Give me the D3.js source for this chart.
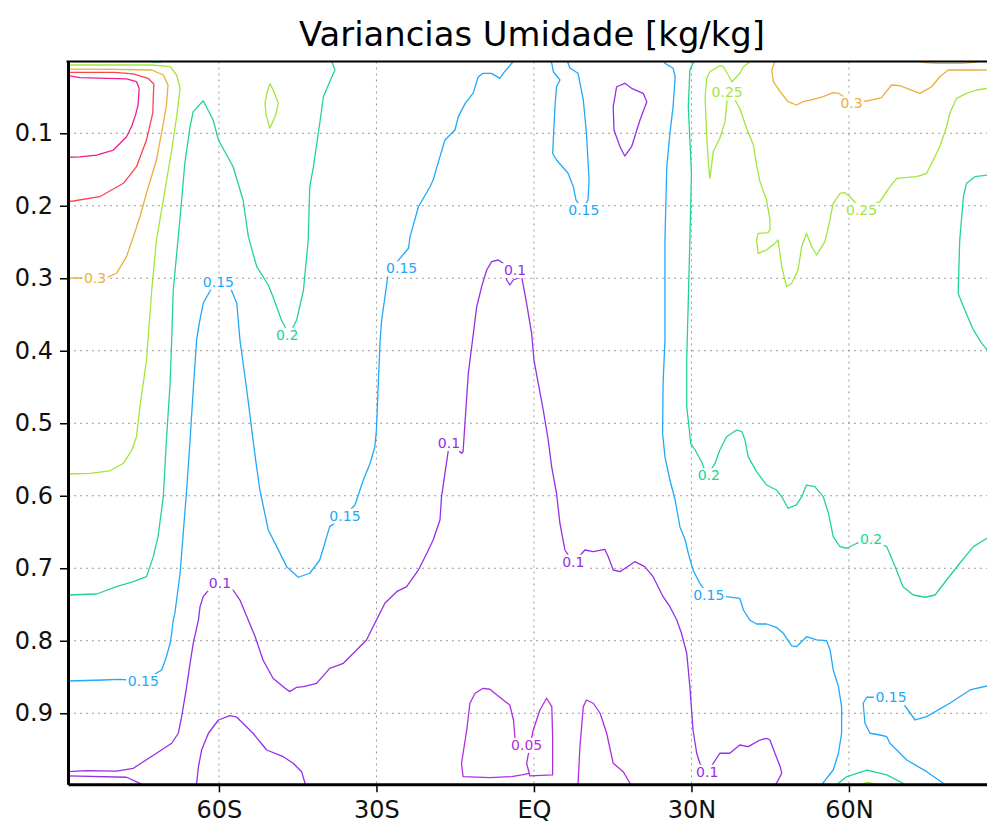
<!DOCTYPE html>
<html>
<head>
<meta charset="utf-8">
<script src="https://cdnjs.cloudflare.com/ajax/libs/d3/7.8.5/d3.min.js"></script>
<style>
	body { margin: 0; background: #fff; }
	svg { display: block; }
	.axis text { font-family: "DejaVu Sans", sans-serif; font-size: 24px; fill: #111; }
	.clab { font-family: "DejaVu Sans", sans-serif; font-size: 14px; }
	.title { font-family: "DejaVu Sans", sans-serif; font-size: 33px; fill: #000; }
</style>
</head>
<body>
<div id="chart"></div>
<script>

var titleText = "Variancias Umidade [kg/kg]";

var latTicks = [-60, -30, 0, 30, 60];
var latTickLabels = ["60S", "30S", "EQ", "30N", "60N"];
var sigTicks = [0.1, 0.2, 0.3, 0.4, 0.5, 0.6, 0.7, 0.8, 0.9];
var sigTickLabels = ["0.1", "0.2", "0.3", "0.4", "0.5", "0.6", "0.7", "0.8", "0.9"];

var levels = [0.05, 0.1, 0.15, 0.2, 0.25, 0.3, 0.35, 0.4];
var levelColors = ["#b02ee0", "#9430e6", "#22a8fa", "#22d492", "#a2e63a", "#e8b03a", "#fa4646", "#f01e8c"];

// contour lines, [lat, sigma]
var c040 = [[-88.75,0.0206],[-86.5,0.0233],[-77.6,0.0251],[-75.7,0.0289],[-75.2,0.038],[-75.4,0.061],[-75.9,0.075],[-76.6,0.09],[-77.6,0.1047],[-80.1,0.1231],[-83.3,0.13],[-86.5,0.1325],[-88.75,0.1331]];

var c035 = [[-88.75,0.0159],[-80,0.016],[-76.3,0.0182],[-73.5,0.0242],[-72.4,0.032],[-72.5,0.05],[-72.6,0.072],[-73.8,0.1093],[-75.7,0.1461],[-78.2,0.169],[-82.7,0.1875],[-87.75,0.1934],[-88.75,0.194]];

var c030a = [[-88.75,0.0115],[-80,0.0118],[-72.8,0.0127],[-70.6,0.0196],[-69.7,0.0334],[-70,0.061],[-70.6,0.0862],[-71.9,0.1369],[-73.8,0.1828],[-75.05,0.2151],[-76.3,0.2426],[-77.6,0.2702],[-79.5,0.2931],[-81.4,0.2992],[-83.6,0.2996],[-88.75,0.2996]];
var c030b = [[45.9,0.001],[45.3,0.0127],[45.6,0.0289],[46.9,0.0427],[48.4,0.0564],[50.0,0.061],[51.3,0.0564],[53.2,0.0531],[55.1,0.0495],[57.0,0.044],[58.0,0.0449],[60.5,0.0565],[63.4,0.0555],[66.2,0.0509],[68.1,0.0334],[69.7,0.0343],[73.5,0.0449],[75.75,0.0358],[77.3,0.022],[78.9,0.0127],[84.3,0.0127],[88.75,0.0125]];
var c030c = [[73.5,0.001],[75,0.003],[77,0.0035],[81.5,0.0035],[84.3,0.002],[84.4,0.001]];

var c025a = [[-88.75,0.0058],[-72.8,0.0058],[-69.3,0.0082],[-68.06,0.0196],[-67.4,0.038],[-68.06,0.0771],[-69.0,0.1231],[-70.6,0.192],[-71.9,0.2472],[-72.8,0.3162],[-73.8,0.4127],[-74.4,0.4444],[-75.05,0.4771],[-75.7,0.5185],[-76.6,0.5369],[-78.2,0.5552],[-80.8,0.5658],[-84.6,0.569],[-88.75,0.57]];
var c025b = [[-50.3,0.0311],[-49.5,0.043],[-48.7,0.0587],[-49.2,0.075],[-50.3,0.0931],[-51.0,0.075],[-51.24,0.0587],[-50.8,0.043],[-50.3,0.0311]];
var c025c = [[62.4,0.998],[63.5,0.9955],[65.3,0.998]];
var c025d = [[41.2,0.001],[39.9,0.0082],[39.2,0.0173],[37.7,0.0289],[37.0,0.0196],[36.1,0.0082],[35.4,0.0068],[33.5,0.0151],[32.9,0.0242],[32.6,0.0518],[32.9,0.1024],[33.2,0.1392],[33.5,0.1621],[33.85,0.1438],[34.15,0.1254],[35.4,0.1069],[36.4,0.084],[36.7,0.061],[36.9,0.045],[38.3,0.0541],[39.2,0.0656],[40.5,0.0931],[41.8,0.1162],[42.4,0.1438],[43.05,0.1668],[44.3,0.192],[44.95,0.2196],[44.95,0.2334],[44.6,0.2371],[42.7,0.238],[42.4,0.2472],[42.7,0.2656],[44.3,0.261],[45.9,0.2518],[46.5,0.2472],[47.2,0.284],[48.1,0.3116],[49.1,0.3069],[50.3,0.2886],[51.0,0.2564],[51.9,0.238],[52.9,0.2564],[53.85,0.2679],[55.4,0.2495],[56.1,0.2288],[57.0,0.1966],[58.3,0.1828],[59.2,0.1819],[60.2,0.1875],[62.4,0.2058],[65.9,0.1944],[67.8,0.1737],[69.1,0.1621],[72.9,0.1599],[74.8,0.1552],[76.06,0.1369],[77.3,0.1185],[78.6,0.0909],[79.2,0.0724],[80.5,0.0518],[82.4,0.0449],[84.3,0.0403],[86.3,0.038],[88.75,0.037]];

var c020a = [[-88.75,0.7369],[-83.3,0.7355],[-79.5,0.7254],[-76.3,0.7185],[-73.8,0.7116],[-72.5,0.684],[-71.6,0.6564],[-70.6,0.6013],[-70.0,0.5231],[-69.3,0.4444],[-69.0,0.3851],[-68.7,0.3162],[-68.1,0.2702],[-67.1,0.192],[-66.5,0.1414],[-65.5,0.0909],[-64.9,0.0702],[-63.0,0.0551],[-61.1,0.0817],[-60.1,0.1093],[-57.3,0.1461],[-55.4,0.192],[-54.4,0.2426],[-52.8,0.284],[-50.6,0.3093],[-49.7,0.3254],[-48.1,0.3576],[-46.6,0.378],[-45.2,0.3576],[-43.9,0.3162],[-43.0,0.2472],[-42.7,0.1737],[-42.0,0.1461],[-40.8,0.0862],[-40.1,0.0495],[-38.9,0.0289],[-37.9,0.0127],[-38.5,0.001]];
var c020b = [[30.5,0.001],[30.3,0.0035],[29.7,0.0127],[29.4,0.0633],[29.7,0.1093],[30.0,0.1552],[29.7,0.2472],[29.1,0.4127],[29.1,0.4771],[29.6,0.5093],[29.85,0.5276],[30.7,0.5369],[31.9,0.553],[33.0,0.572],[34.5,0.5552],[35.4,0.5369],[36.7,0.5185],[38.6,0.5093],[39.6,0.5116],[40.2,0.5231],[40.8,0.5461],[42.4,0.5668],[44.3,0.5852],[46.2,0.5921],[47.2,0.6013],[48.4,0.6173],[50.0,0.6127],[51.0,0.6013],[51.9,0.5852],[53.5,0.5875],[55.1,0.6013],[56.1,0.6242],[57.0,0.6564],[58.3,0.6702],[59.6,0.6724],[61.5,0.6655],[64.2,0.662],[67.2,0.6702],[68.8,0.6978],[70.3,0.7254],[72.25,0.7369],[74.5,0.74],[76.4,0.7369],[78.6,0.7162],[81.1,0.6931],[83.7,0.6702],[86.3,0.6586],[88.75,0.652]];
var c020c = [[88.75,0.156],[86.3,0.1576],[84.0,0.1599],[82.4,0.169],[81.8,0.1875],[81.1,0.2472],[80.8,0.3207],[81.8,0.3392],[83.7,0.3713],[85.3,0.3897],[86.3,0.3989],[88.75,0.41]];
var c020d = [[57.96,0.998],[58.0,0.9966],[59.6,0.9874],[63.4,0.9783],[67.2,0.9851],[70.3,0.9966],[70.5,0.998]];
var c020e = [[-72.8,0.001],[-72.8,0.0015],[-71.0,0.0015],[-70.9,0.001]];

var c015a = [[-88.75,0.8555],[-82.0,0.8541],[-78.9,0.8532],[-74.4,0.8555],[-70.9,0.8403],[-70.0,0.8219],[-69.3,0.8035],[-69.0,0.7897],[-68.7,0.7713],[-68.4,0.7621],[-67.4,0.7069],[-66.8,0.6513],[-66.15,0.5921],[-65.5,0.5231],[-64.9,0.4541],[-64.25,0.3851],[-63.75,0.3621],[-63.0,0.3345],[-61.4,0.3138],[-60.1,0.3047],[-57.9,0.3116],[-56.6,0.3345],[-56.0,0.3851],[-54.7,0.4541],[-53.1,0.5461],[-52.2,0.5921],[-50.6,0.6472],[-49.0,0.6702],[-47.1,0.6978],[-44.9,0.7124],[-42.7,0.7069],[-40.8,0.6886],[-38.9,0.6426],[-36.2,0.6289],[-34.1,0.6127],[-32.5,0.5783],[-31.2,0.5552],[-30.3,0.5323],[-30.0,0.5093],[-29.7,0.4541],[-29.3,0.3851],[-29.0,0.3576],[-27.75,0.2931],[-25.8,0.275],[-23.9,0.2586],[-23.6,0.2426],[-22.0,0.2013],[-19.8,0.1737],[-19.2,0.1645],[-17.9,0.1323],[-16.95,0.1093],[-15.05,0.0955],[-14.4,0.0771],[-13.1,0.0587],[-11.6,0.0449],[-10.6,0.022],[-9.7,0.0173],[-8.1,0.0173],[-6.5,0.0242],[-5.85,0.0173],[-4.25,0.0035],[-3.9,0.001]];
var c015b = [[3.2,0.001],[3.4,0.0035],[3.7,0.0151],[4.95,0.0265],[4.3,0.0358],[4.0,0.0633],[3.56,0.1276],[4.3,0.1369],[6.5,0.1552],[7.5,0.1737],[8.0,0.192],[9.2,0.205],[10.3,0.192],[10.5,0.1645],[10.0,0.1],[9.4,0.0541],[8.4,0.0173],[6.9,0.0104],[6.5,0.0035],[6.4,0.001]];
var c015c = [[24.8,0.001],[24.95,0.0035],[26.5,0.0104],[26.9,0.022],[26.5,0.0633],[25.9,0.1],[25.3,0.1461],[24.95,0.2472],[24.95,0.3851],[24.6,0.4449],[24.5,0.5138],[24.95,0.5461],[25.9,0.5783],[26.9,0.6059],[27.8,0.6426],[28.8,0.661],[29.4,0.6793],[30.3,0.7024],[31.6,0.7207],[33.2,0.7369],[36.7,0.7392],[39.2,0.7414],[39.9,0.7576],[41.1,0.7713],[42.4,0.7769],[44.3,0.7769],[46.2,0.7817],[47.5,0.7897],[49.1,0.8072],[50.0,0.8082],[51.3,0.7989],[51.9,0.7944],[53.85,0.7989],[55.75,0.7999],[56.4,0.8127],[57.0,0.8403],[58.0,0.8633],[58.6,0.8909],[58.6,0.9276],[58.0,0.9552],[57.0,0.9783],[55.1,0.9957],[54.9,0.998]];
var c015d = [[78.0,0.998],[77.96,0.9966],[74.8,0.9806],[71.0,0.9645],[69.1,0.9507],[67.8,0.9414],[67.2,0.9323],[65.9,0.93],[64.0,0.9276],[63.05,0.9138],[62.7,0.8862],[63.4,0.8779],[68.0,0.8779],[70.3,0.8862],[72.6,0.9093],[74.8,0.9047],[79.2,0.8862],[83.05,0.8679],[86.3,0.8624],[88.75,0.86]];

var c010a = [[-88.75,0.9806],[-85.2,0.9792],[-79.5,0.9797],[-76.3,0.9759],[-74.4,0.9668],[-71.9,0.9552],[-69.0,0.9414],[-67.75,0.9276],[-67.1,0.9047],[-66.15,0.8633],[-65.5,0.8311],[-64.9,0.8035],[-63.9,0.7713],[-63.6,0.753],[-63.0,0.7392],[-61.7,0.7276],[-59.8,0.7207],[-57.3,0.73],[-56.0,0.7438],[-53.1,0.7944],[-51.6,0.8265],[-49.7,0.8518],[-47.4,0.8656],[-46.5,0.8702],[-45.2,0.8642],[-43.9,0.8633],[-41.4,0.8587],[-38.9,0.838],[-36.3,0.8311],[-34.4,0.8172],[-31.9,0.7989],[-30.0,0.7713],[-28.4,0.7483],[-26.15,0.7323],[-24.25,0.7254],[-22.0,0.7024],[-20.4,0.6793],[-19.2,0.661],[-17.9,0.6334],[-17.6,0.6013],[-16.95,0.569],[-16.3,0.5369],[-15.2,0.53],[-14.4,0.5369],[-13.8,0.5414],[-13.5,0.5392],[-13.1,0.4955],[-12.5,0.4311],[-11.7,0.3851],[-10.9,0.3392],[-9.96,0.3116],[-9.0,0.2886],[-8.06,0.2771],[-6.8,0.2748],[-5.85,0.2793],[-5.2,0.3024],[-4.57,0.3093],[-3.94,0.3024],[-2.34,0.2978],[-1.4,0.3345],[-0.44,0.3759],[0,0.4127],[0.82,0.4449],[1.77,0.4817],[2.72,0.5231],[3.37,0.5599],[4.3,0.5966],[4.95,0.638],[5.9,0.6748],[7.5,0.693],[9.7,0.6748],[11.3,0.6771],[13.5,0.6738],[14.15,0.684],[15.1,0.7024],[16.4,0.7047],[18.3,0.6955],[19.2,0.6909],[21.1,0.6978],[22.7,0.7116],[24.6,0.7392],[25.9,0.753],[27.2,0.7713],[28.1,0.7897],[29.1,0.8172],[29.7,0.8633],[30.3,0.9231],[31.0,0.9552],[31.6,0.969],[33.0,0.982],[35.4,0.9552],[37.3,0.9552],[39.2,0.9438],[40.8,0.9461],[43.05,0.9369],[44.3,0.9345],[44.95,0.9369],[45.9,0.9552],[46.9,0.9737],[47.2,0.9828],[46.2,0.9966],[46.0,0.998]];
var c010b = [[-88.75,0.9865],[-77.6,0.9883],[-75.05,0.9966],[-74.7,0.998]];
var c010c = [[15.75,0.0358],[17.3,0.0311],[18.6,0.038],[20.8,0.0449],[21.5,0.0564],[20.2,0.0817],[18.6,0.1185],[17.3,0.1314],[16.4,0.1185],[15.24,0.0955],[15.1,0.0633],[15.75,0.0358]];
var c010d = [[-64.3,0.998],[-64.25,0.9966],[-63.9,0.9737],[-63.3,0.9507],[-62.0,0.9276],[-60.1,0.9093],[-57.9,0.9033],[-56.6,0.9055],[-53.5,0.9276],[-50.9,0.9507],[-47.75,0.9599],[-45.85,0.969],[-44.25,0.9806],[-43.6,0.9966],[-43.5,0.998]];

var c005a = [[-3.6,0.935],[-3.9,0.9093],[-4.6,0.8886],[-5.85,0.8817],[-8.4,0.8669],[-9.7,0.8656],[-11.2,0.8724],[-12.2,0.8862],[-12.8,0.9231],[-13.8,0.969],[-13.5,0.9874],[-8.4,0.9888],[-4.25,0.9874],[-2.3,0.9851],[-0.9,0.9828],[-1.4,0.969],[-1.1,0.9576],[-0.6,0.94],[-0.13,0.9231],[1.14,0.8955],[2.4,0.8793],[3.4,0.8909],[3.56,0.9323],[3.56,0.9851],[-0.76,0.9865],[-0.9,0.9828]];
var c005b = [[8.4,0.998],[8.4,0.9966],[8.76,0.9461],[9.4,0.8909],[10.0,0.8817],[11.3,0.8862],[12.6,0.9],[13.85,0.9276],[15.1,0.969],[17.0,0.9806],[18.3,0.9966],[18.4,0.998]];

// [level, lat, sigma]
var contourLabels = [
	[0.3, -83.6, 0.2996], [0.15, -60.1, 0.3047], [0.2, -47.0, 0.378], [0.15, -25.2, 0.2862],
	[0.1, -3.6, 0.2887], [0.15, 9.5, 0.2058], [0.25, 36.8, 0.0435], [0.3, 60.5, 0.0587],
	[0.25, 62.4, 0.2058], [0.15, -74.4, 0.8555], [0.15, -36.0, 0.6275], [0.1, -16.2, 0.5272],
	[0.1, -59.8, 0.7207], [0.1, 7.5, 0.6909], [0.2, 33.3, 0.5714], [0.2, 64.2, 0.66],
	[0.15, 33.3, 0.7369], [0.15, 68.0, 0.8779], [0.05, -1.4, 0.9436], [0.1, 33.0, 0.9806]
];

var contourLines = [
	[0.4, c040], [0.35, c035], [0.3, c030a], [0.3, c030b], [0.3, c030c],
	[0.25, c025a], [0.25, c025b], [0.25, c025c], [0.25, c025d],
	[0.2, c020a], [0.2, c020b], [0.2, c020c], [0.2, c020d], [0.2, c020e],
	[0.15, c015a], [0.15, c015b], [0.15, c015c], [0.15, c015d],
	[0.1, c010a], [0.1, c010b], [0.1, c010c], [0.1, c010d],
	[0.05, c005a], [0.05, c005b]
];


var W = 987, H = 823;
var latMin = -88.75, latMax = 88.75, sigTop = 0.001, sigBot = 0.998;

var x = d3.scaleLinear().domain([latMin, latMax]).range([68, 999.9]);
var y = d3.scaleLinear().domain([sigTop, sigBot]).range([61.5, 784.3]);
var color = d3.scaleOrdinal().domain(levels).range(levelColors);

var svg = d3.select("#chart").append("svg")
	.attr("width", W)
	.attr("height", H);

svg.append("rect")
	.attr("width", W)
	.attr("height", H)
	.attr("fill", "#fff");

svg.append("clipPath")
	.attr("id", "plotClip")
	.append("rect")
	.attr("x", x(latMin))
	.attr("y", y(sigTop))
	.attr("width", x(latMax) - x(latMin))
	.attr("height", y(sigBot) - y(sigTop));

svg.append("text")
	.attr("class", "title")
	.attr("x", 532)
	.attr("y", 46)
	.attr("text-anchor", "middle")
	.attr("textLength", 466)
	.attr("lengthAdjust", "spacingAndGlyphs")
	.text(titleText);


var grid = svg.append("g")
	.attr("class", "grid")
	.attr("stroke", "#9a9a9a")
	.attr("stroke-width", 1)
	.attr("stroke-dasharray", "2,4");

grid.selectAll(".vgrid")
	.data(latTicks)
	.enter().append("line")
	.attr("x1", function(d) { return x(d); })
	.attr("x2", function(d) { return x(d); })
	.attr("y1", y(sigTop))
	.attr("y2", y(sigBot));

grid.selectAll(".hgrid")
	.data(sigTicks)
	.enter().append("line")
	.attr("y1", function(d) { return y(d); })
	.attr("y2", function(d) { return y(d); })
	.attr("x1", x(latMin))
	.attr("x2", x(latMax));


var line = d3.line()
	.x(function(d) { return x(d[0]); })
	.y(function(d) { return y(d[1]); });

svg.append("g")
	.attr("clip-path", "url(#plotClip)")
	.selectAll("path")
	.data(contourLines)
	.enter().append("path")
	.attr("d", function(d) { return line(d[1]); })
	.attr("fill", "none")
	.attr("stroke", function(d) { return color(d[0]); })
	.attr("stroke-width", 1.3)
	.attr("stroke-linejoin", "round");


var labs = svg.append("g")
	.selectAll("g")
	.data(contourLabels)
	.enter().append("g")
	.attr("transform", function(d) { return "translate(" + x(d[1]) + "," + y(d[2]) + ")"; });

labs.each(function(d)
{
	var g = d3.select(this);
	var t = g.append("text")
		.attr("class", "clab")
		.attr("text-anchor", "middle")
		.attr("dy", "0.36em")
		.attr("fill", color(d[0]))
		.text(String(d[0]));
	var b = t.node().getBBox();
	g.insert("rect", "text")
		.attr("x", b.x - 1.5)
		.attr("y", b.y + 1)
		.attr("width", b.width + 3)
		.attr("height", b.height - 1)
		.attr("fill", "#fff");
});


var yAxis = d3.axisLeft(y)
	.tickValues(sigTicks)
	.tickFormat(function(d, i) { return sigTickLabels[i]; })
	.tickSize(8)
	.tickSizeOuter(0)
	.tickPadding(7);

var xAxis = d3.axisBottom(x)
	.tickValues(latTicks)
	.tickFormat(function(d, i) { return latTickLabels[i]; })
	.tickSize(8)
	.tickSizeOuter(0)
	.tickPadding(9);

var gy = svg.append("g")
	.attr("class", "axis")
	.attr("transform", "translate(" + x(latMin) + ",0)")
	.call(yAxis);

var gx = svg.append("g")
	.attr("class", "axis")
	.attr("transform", "translate(0," + y(sigBot) + ")")
	.call(xAxis);

gy.attr("font-size", null).attr("font-family", null);
gx.attr("font-size", null).attr("font-family", null);
gy.select(".domain").attr("stroke-width", 3).attr("stroke", "#000");
gx.select(".domain").attr("stroke-width", 3).attr("stroke", "#000");
gy.selectAll(".tick line").attr("stroke-width", 1.5).attr("stroke", "#000");
gx.selectAll(".tick line").attr("stroke-width", 1.5).attr("stroke", "#000");

svg.append("line")
	.attr("x1", x(latMin) - 1.5)
	.attr("x2", W)
	.attr("y1", y(sigTop))
	.attr("y2", y(sigTop))
	.attr("stroke", "#000")
	.attr("stroke-width", 2);

</script>
</body>
</html>
